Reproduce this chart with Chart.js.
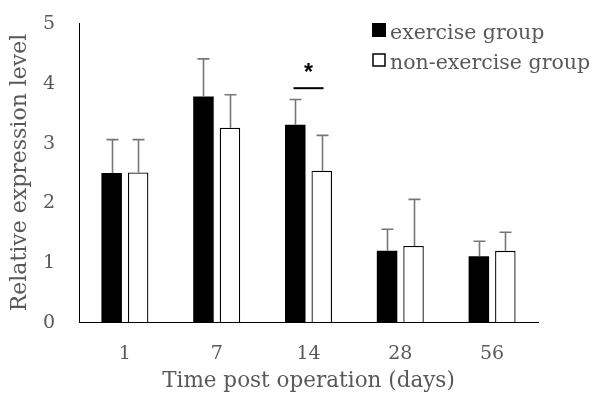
<!DOCTYPE html>
<html>
<head>
<meta charset="utf-8">
<script src="https://cdn.jsdelivr.net/npm/chart.js@4/dist/chart.umd.min.js"></script>
<style>
  html, body { margin: 0; padding: 0; background: #fff; }
  #wrap { width: 600px; height: 394px; }
</style>
</head>
<body>
<div id="wrap"><canvas id="myChart" width="600" height="394"></canvas></div>
<script>
// data
const days = ['1', '7', '14', '28', '56'];
const exercise = [2.49, 3.77, 3.30, 1.19, 1.10];
const exerciseErr = [0.56, 0.63, 0.42, 0.36, 0.25];
const nonExercise = [2.50, 3.25, 2.53, 1.27, 1.19];
const nonExerciseErr = [0.55, 0.55, 0.59, 0.78, 0.31];
const yTicks = [0, 1, 2, 3, 4, 5];
// significance mark over day 14
const sigIndex = 2;
const sigLineY = 3.91;
const sigStarY = 4.22;

const FONT = '"DejaVu Serif", serif';
const GREY = '#595959';

// upper error bars only, like the original
const errorBars = {
  id: 'errorBars',
  afterDatasetsDraw(chart) {
    const ctx = chart.ctx;
    const y = chart.scales.y;
    ctx.save();
    ctx.strokeStyle = '#767676';
    ctx.lineWidth = 1.6;
    chart.data.datasets.forEach((ds, i) => {
      const meta = chart.getDatasetMeta(i);
      meta.data.forEach((bar, j) => {
        const top = y.getPixelForValue(ds.data[j] + ds.err[j]);
        const x = Math.round(bar.x) + 0.5;
        ctx.beginPath();
        ctx.moveTo(x, bar.y);
        ctx.lineTo(x, top);
        ctx.moveTo(x - 6, top);
        ctx.lineTo(x + 6, top);
        ctx.stroke();
      });
    });
    ctx.restore();
  }
};

const sigMark = {
  id: 'sigMark',
  afterDatasetsDraw(chart) {
    const ctx = chart.ctx;
    const cx = chart.scales.x.getPixelForValue(sigIndex);
    const ly = chart.scales.y.getPixelForValue(sigLineY);
    const sy = chart.scales.y.getPixelForValue(sigStarY);
    ctx.save();
    ctx.strokeStyle = '#000';
    ctx.lineWidth = 2;
    ctx.beginPath();
    ctx.moveTo(cx - 15, ly);
    ctx.lineTo(cx + 15, ly);
    ctx.stroke();
    ctx.fillStyle = '#000';
    ctx.font = 'bold 23px "Liberation Sans", Arial, sans-serif';
    ctx.textAlign = 'center';
    ctx.textBaseline = 'middle';
    ctx.fillText('*', cx, sy + 4);
    ctx.restore();
  }
};

const boxLegend = {
  id: 'boxLegend',
  afterDraw(chart) {
    const ctx = chart.ctx;
    ctx.save();
    ctx.font = '20.5px ' + FONT;
    ctx.textBaseline = 'middle';
    chart.data.datasets.forEach((ds, i) => {
      const rowY = 30 + i * 30;
      if (i === 0) {
        ctx.fillStyle = '#000';
        ctx.fillRect(372, rowY - 7, 14, 14);
      } else {
        ctx.strokeStyle = '#000';
        ctx.lineWidth = 1.5;
        ctx.strokeRect(373, rowY - 6, 12, 12);
      }
      ctx.fillStyle = GREY;
      ctx.fillText(ds.label, 390, rowY + 4);
    });
    ctx.restore();
  }
};

const ctx = document.getElementById('myChart').getContext('2d');
const myChart = new Chart(ctx, {
  type: 'bar',
  data: {
    labels: days,
    datasets: [
      {
        label: 'exercise group',
        data: exercise,
        err: exerciseErr,
        backgroundColor: '#000',
        borderWidth: 0
      },
      {
        label: 'non-exercise group',
        data: nonExercise,
        err: nonExerciseErr,
        backgroundColor: '#fff',
        borderColor: '#000',
        borderWidth: 1.3
      }
    ]
  },
  options: {
    responsive: false,
    animation: false,
    categoryPercentage: 0.577,
    barPercentage: 0.774,
    layout: { padding: { top: 23, right: 62, left: 0, bottom: 0 } },
    plugins: {
      legend: { display: false },
      tooltip: { enabled: false }
    },
    scales: {
      x: {
        grid: { display: false, drawTicks: false },
        border: { color: '#000', width: 1 },
        ticks: { color: GREY, font: { family: FONT, size: 19 }, padding: 21 },
        title: {
          display: true,
          text: 'Time post operation (days)',
          color: GREY,
          font: { family: FONT, size: 21.5 },
          padding: { top: 0, bottom: 0 }
        },
        afterFit(scale) { scale.height = 72; }
      },
      y: {
        min: 0,
        max: 5,
        afterBuildTicks(scale) { scale.ticks = yTicks.map(v => ({ value: v })); },
        grid: { display: false, drawTicks: false },
        border: { color: '#000', width: 1 },
        ticks: { color: GREY, font: { family: FONT, size: 19 }, padding: 24, labelOffset: 1 },
        title: {
          display: true,
          text: 'Relative expression level',
          color: GREY,
          font: { family: FONT, size: 22 },
          padding: { top: 7, bottom: 0 }
        },
        afterFit(scale) {
          scale.width = 79;
          scale.paddingTop = 11;
          scale.paddingBottom = 11;
        }
      }
    }
  },
  plugins: [errorBars, sigMark, boxLegend]
});
</script>
</body>
</html>
